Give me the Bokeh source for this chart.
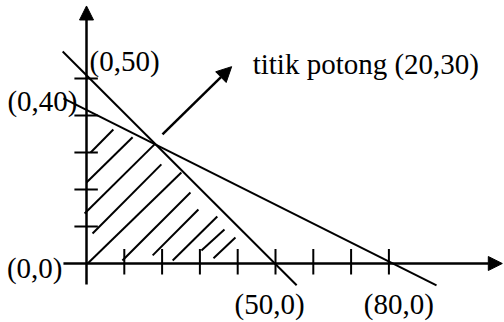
from bokeh.plotting import figure
from bokeh.models import Range1d, Arrow, NormalHead, ColumnDataSource
from bokeh.core.properties import value
from bokeh.embed import file_html
from bokeh.resources import INLINE

# constraint lines (x+y=50 and x+2y=80)
line1_x = [-6.3, 55.6]
line1_y = [57.3, -5.9]
line2_x = [-6.1, 92.6]
line2_y = [44.6, -5.9]

# axes extents
xaxis_x = [-6.1, 110.0]
yaxis_y = [-5.7, 69.6]

# tick positions
x_ticks = [10, 20, 30, 40, 50, 60, 70, 80]
y_ticks = [10, 20, 30, 40, 50]

# hatch segments of the feasible region
hatch_x0 = [1.1, 0.0, -0.5, 1.6, 0.3, 9.5, 17.5, 22.8, 30.4, 33.6]
hatch_y0 = [30.0, 21.9, 13.5, 8.1, 0.0, 0.8, 2.2, 0.8, 3.5, 1.4]
hatch_x1 = [7.1, 12.2, 18.0, 19.8, 25.1, 27.5, 29.6, 34.6, 36.5, 39.4]
hatch_y1 = [36.2, 34.1, 32.2, 26.8, 24.6, 19.2, 14.6, 12.7, 9.2, 7.0]

# pointer arrow to intersection label
pointer_start = (20.1, 34.9)
pointer_end = (38.4, 53.2)

# point labels
label_text = ["(0,50)", "(0,40)", "(0,0)", "(50,0)", "(80,0)"]
label_x = [0, 0, 0, 50, 80]
label_y = [50, 40, 0, 0, 0]
label_align = ["left", "right", "right", "center", "center"]
label_dx = [3, -9, -24, -6, 10]
label_dy = [-18, -15, 4, 40, 40]

note_text = "titik potong (20,30)"

W, H = 504, 322
OX, OY = 86, 263
XS, YS = 3.78, 3.7
p = figure(width=W, height=H, output_backend="svg", toolbar_location=None,
           x_range=Range1d(-OX / XS, (W - OX) / XS),
           y_range=Range1d(-(H - OY) / YS, OY / YS),
           x_axis_location=None, y_axis_location=None, min_border=0)
p.grid.visible = False
p.outline_line_color = None
p.background_fill_color = "white"
p.border_fill_color = "white"

# hatch
p.segment(x0=hatch_x0, y0=hatch_y0, x1=hatch_x1, y1=hatch_y1, line_color="black", line_width=2)

# constraint lines
p.line(line1_x, line1_y, line_color="black", line_width=2)
p.line(line2_x, line2_y, line_color="black", line_width=2)

# ticks
p.segment(x0=x_ticks, y0=[-3.0] * len(x_ticks), x1=x_ticks, y1=[3.9] * len(x_ticks),
          line_color="black", line_width=2)
p.segment(x0=[-3.2] * len(y_ticks), y0=y_ticks, x1=[3.0] * len(y_ticks), y1=y_ticks,
          line_color="black", line_width=2)

# axes with arrowheads
p.add_layout(Arrow(end=NormalHead(size=14, fill_color="black", line_color="black", line_width=1),
                   x_start=xaxis_x[0], y_start=0, x_end=xaxis_x[1], y_end=0,
                   line_color="black", line_width=2.5))
p.add_layout(Arrow(end=NormalHead(size=14, fill_color="black", line_color="black", line_width=1),
                   x_start=0, y_start=yaxis_y[0], x_end=0, y_end=yaxis_y[1],
                   line_color="black", line_width=2.5))

# pointer arrow
p.add_layout(Arrow(end=NormalHead(size=15, fill_color="black", line_color="black", line_width=1),
                   x_start=pointer_start[0], y_start=pointer_start[1],
                   x_end=pointer_end[0], y_end=pointer_end[1],
                   line_color="black", line_width=2.5))

# labels
src = ColumnDataSource(dict(x=label_x, y=label_y, t=label_text, a=label_align,
                            dx=label_dx, dy=label_dy))
p.text(x="x", y="y", text="t", text_align="a", x_offset="dx", y_offset="dy",
       text_baseline="alphabetic", text_font=value("Liberation Serif"),
       text_font_size="29px", text_color="black", source=src)

p.text(x=[pointer_end[0]], y=[pointer_end[1]], text=[note_text], x_offset=21, y_offset=-3,
       text_align="left", text_baseline="alphabetic", text_font=value("Liberation Serif"),
       text_font_size="29px", text_color="black")

open("out.html", "w").write(file_html(p, INLINE))
